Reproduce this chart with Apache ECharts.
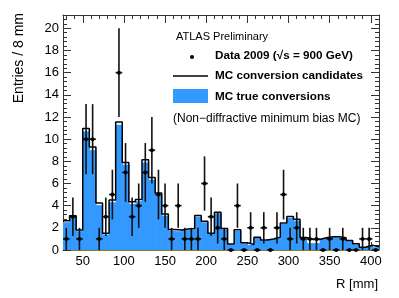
<!DOCTYPE html>
<html><head><meta charset="utf-8">
<script src="https://cdn.jsdelivr.net/npm/echarts@6/dist/echarts.min.js"></script>
<style>html,body{margin:0;padding:0;background:#fff}#c{width:399px;height:298px}</style>
</head><body><div id="c"></div>
<script>
// R bin centres [mm], bin width 8 mm
const binCenters = [30,38,46,54,62,70,78,86,94,102,110,118,126,134,142,150,158,166,174,182,190,198,206,214,222,230,238,246,254,262,270,278,286,294,302,310,318,326,334,342,350,358,366,374,382,390,398,406];
const binHalfWidth = 4;
const dataCounts = [1,3,1,10,10,1,3,5,16,7,3,4,7,9,5,4,1,4,1,1,1,6,3,2,1,0,4,0,2,0,2,0,2,5,1,2,1,1,1,0,1,0,1,0,0,1,1,0];
const dataErrors = [1,1.73,1,3.16,3.16,1,1.73,2.24,4,2.65,1.73,2,2.65,3,2.24,2,1,2,1,1,1,2.45,1.73,1.41,1,0,2,0,1.41,0,1.41,0,1.41,2.24,1,1.41,1,1,1,0,1,0,1,0,0,1,1,0];
const mcCandidates = [2.65,3.1,1.8,10.95,9.3,4.25,1.5,4.5,11.55,7.9,4.35,4.55,8.15,6.55,5.15,3.25,1.85,1.8,1.9,1.95,3.12,2.6,1.52,3.4,1.95,0.55,1.82,0.65,0.5,1.16,0.9,1.0,1.16,2.43,3.03,2.78,1.12,0.95,0.95,1.1,1.2,1.2,1.1,0.86,0.56,0.25,0.42,0.3];
const mcTrue = [2.5,3.0,1.7,10.7,9.0,4.05,1.4,4.3,11.3,7.7,4.15,4.4,7.9,6.35,4.95,3.1,1.75,1.7,1.8,1.85,3.0,2.5,1.45,3.3,1.85,0.5,1.72,0.6,0.45,1.1,0.85,0.95,1.1,2.35,2.9,2.65,1.0,0.62,0.62,1.05,1.15,1.15,1.05,0.8,0.5,0.2,0.38,0.25];
const xMajorTicks = [50,100,150,200,250,300,350,400];
const xMinorTicks = [30,40,60,70,80,90,110,120,130,140,160,170,180,190,210,220,230,240,260,270,280,290,310,320,330,340,360,370,380,390,410];
const xMin = 26, xMax = 410, yMin = 0, yMax = 21.2, yStep = 2;

const FONT = '"Liberation Sans", Arial, Helvetica, sans-serif';
const BLUE = '#3399ff';

const trueData = binCenters.map((c, i) => [c, mcTrue[i]]);
const candLine = binCenters.map((c, i) => [c - binHalfWidth, mcCandidates[i]]);
candLine.push([binCenters[binCenters.length - 1] + binHalfWidth, mcCandidates[mcCandidates.length - 1]]);
const pts = binCenters.map((c, i) => [c, dataCounts[i], dataErrors[i]]);

function xAxisDef(pos, ticks, len, labels, line) {
  return {
    type: 'value', min: xMin, max: xMax, position: pos,
    axisLine: {show: line, onZero: false, lineStyle: {color: pos === 'bottom' ? '#8c7a30' : '#333', width: 1}},
    axisTick: {show: true, inside: true, length: len, customValues: ticks, lineStyle: {color: '#333', width: 1}},
    axisLabel: labels ? {show: true, customValues: ticks, color: '#000', fontFamily: FONT, fontSize: 13, margin: 5} : {show: false},
    splitLine: {show: false}
  };
}
function yAxisDef(pos, labels) {
  return {
    type: 'value', min: yMin, max: yMax, interval: yStep, position: pos,
    axisLine: {show: true, lineStyle: {color: '#333', width: 1}},
    axisTick: {show: true, inside: true, length: 8, lineStyle: {color: '#333', width: 1}},
    minorTick: {show: true, splitNumber: 5, length: 4, lineStyle: {color: '#333', width: 1}},
    axisLabel: labels ? {show: true, color: '#000', fontFamily: FONT, fontSize: 13, margin: 4, showMaxLabel: false} : {show: false},
    splitLine: {show: false}
  };
}

const chart = echarts.init(document.getElementById('c'), null, {renderer: 'canvas'});
chart.setOption({
  animation: false,
  backgroundColor: '#fff',
  grid: {left: 63, right: 20, top: 15, bottom: 48, containLabel: false},
  xAxis: [
    xAxisDef('bottom', xMajorTicks, 8, true, true),
    xAxisDef('bottom', xMinorTicks, 4, false, false),
    xAxisDef('top', xMajorTicks, 8, false, true),
    xAxisDef('top', xMinorTicks, 4, false, false)
  ],
  yAxis: [yAxisDef('left', true), yAxisDef('right', false)],
  series: [
    {
      type: 'custom', xAxisIndex: 0, yAxisIndex: 0, data: trueData, z: 1,
      renderItem: function (params, api) {
        const x = api.value(0), v = api.value(1);
        const p0 = api.coord([x - binHalfWidth, v]);
        const p1 = api.coord([x + binHalfWidth, 0]);
        return {type: 'rect', shape: {x: p0[0], y: p0[1], width: p1[0] - p0[0] + 0.6, height: p1[1] - p0[1]}, style: {fill: BLUE}};
      }
    },
    {
      type: 'line', xAxisIndex: 0, yAxisIndex: 0, data: candLine, step: 'end', z: 2,
      symbol: 'none', lineStyle: {color: '#000', width: 1.5}
    },
    {
      type: 'custom', xAxisIndex: 0, yAxisIndex: 0, data: pts, z: 3, clip: false,
      renderItem: function (params, api) {
        const x = api.value(0), v = api.value(1), e = api.value(2);
        const c = api.coord([x, v]);
        const top = api.coord([x, v + e]);
        const bot = api.coord([x, v - e]);
        const l = api.coord([x - binHalfWidth, v]);
        const r = api.coord([x + binHalfWidth, v]);
        const st = {stroke: '#111', lineWidth: 1.6};
        const ch = [
          {type: 'line', shape: {x1: l[0], y1: l[1], x2: r[0], y2: r[1]}, style: st},
          {type: 'circle', shape: {cx: c[0], cy: c[1], r: 2}, style: {fill: '#000'}}
        ];
        if (e > 0) ch.unshift({type: 'line', shape: {x1: top[0], y1: top[1], x2: bot[0], y2: bot[1]}, style: st});
        return {type: 'group', children: ch};
      }
    }
  ],
  graphic: [
    {type: 'text', x: 19, y: 13, rotation: Math.PI / 2, style: {text: 'Entries / 8 mm', fontFamily: FONT, fontSize: 14, fill: '#000', align: 'right', verticalAlign: 'middle'}},
    {type: 'text', x: 378, y: 284, style: {text: 'R [mm]', fontFamily: FONT, fontSize: 13, fill: '#000', align: 'right', verticalAlign: 'middle'}},
    {type: 'text', x: 176, y: 37, style: {text: 'ATLAS Preliminary', fontFamily: FONT, fontSize: 11, fill: '#000', align: 'left', verticalAlign: 'middle'}},
    {type: 'circle', shape: {cx: 192, cy: 57, r: 2}, style: {fill: '#000'}},
    {type: 'text', x: 215, y: 56, style: {text: 'Data 2009 (√s = 900 GeV)', fontFamily: FONT, fontSize: 11.7, fontWeight: 'bold', fill: '#000', align: 'left', verticalAlign: 'middle'}},
    {type: 'line', shape: {x1: 173, y1: 76, x2: 208, y2: 76}, style: {stroke: '#000', lineWidth: 1.5}},
    {type: 'text', x: 215, y: 76, style: {text: 'MC conversion candidates', fontFamily: FONT, fontSize: 11.7, fontWeight: 'bold', fill: '#000', align: 'left', verticalAlign: 'middle'}},
    {type: 'rect', shape: {x: 173, y: 89, width: 35, height: 14}, style: {fill: BLUE}},
    {type: 'text', x: 215, y: 96.5, style: {text: 'MC true conversions', fontFamily: FONT, fontSize: 11.7, fontWeight: 'bold', fill: '#000', align: 'left', verticalAlign: 'middle'}},
    {type: 'text', x: 173, y: 118.5, style: {text: '(Non\u2212diffractive minimum bias MC)', fontFamily: FONT, fontSize: 12, fill: '#000', align: 'left', verticalAlign: 'middle'}}
  ]
});
</script></body></html>
